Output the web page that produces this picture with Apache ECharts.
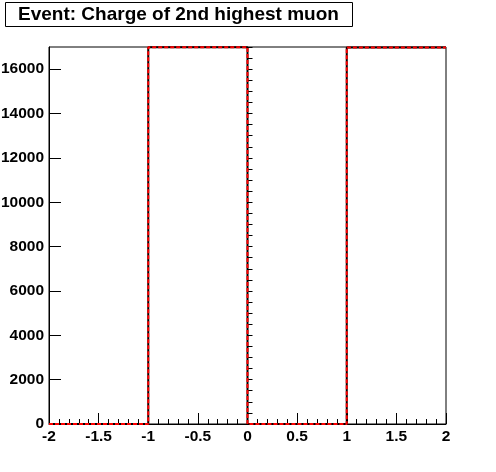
<!DOCTYPE html>
<html><head><meta charset="utf-8">
<script src="https://cdn.jsdelivr.net/npm/echarts@6/dist/echarts.min.js"></script>
<style>html,body{margin:0;padding:0;background:#fff}#c{width:496px;height:472px}</style>
</head><body><div id="c"></div>
<script>
const titleText = "Event: Charge of 2nd highest muon";
const binEdges = [-2, -1, 0, 1, 2];
const countsBlack = [0, 16990, 0, 16980];
const countsRed = [0, 16990, 0, 16980];
const yTickLabels = [0, 2000, 4000, 6000, 8000, 10000, 12000, 14000, 16000];
const xTickLabels = [-2, -1.5, -1, -0.5, 0, 0.5, 1, 1.5, 2];
const yMax = 17000;

function histPath(edges, counts) {
  const pts = [];
  for (let i = 0; i < counts.length; i++) {
    pts.push([edges[i], counts[i]]);
    pts.push([edges[i + 1], counts[i]]);
  }
  return pts;
}
const yMinor = [];
for (let v = 0; v <= yMax; v += 500) yMinor.push(v);

const font = { fontFamily: 'Liberation Sans', fontWeight: 'bold', fontSize: 15.5, color: '#000' };
const chart = echarts.init(document.getElementById('c'), null, { renderer: 'canvas' });
chart.setOption({
  animation: false,
  backgroundColor: '#fff',
  title: {
    text: titleText, left: 5, top: 2,
    borderColor: '#000', borderWidth: 1, padding: [3, 14, 3, 13],
    textStyle: { fontFamily: 'Liberation Sans', fontWeight: 'bold', fontSize: 19, color: '#000', lineHeight: 19 }
  },
  grid: { left: 49, right: 50, top: 47, bottom: 48, outerBoundsMode: 'none', containLabel: false, show: true, borderColor: '#000', borderWidth: 1, backgroundColor: 'transparent' },
  xAxis: {
    type: 'value', min: -2, max: 2, interval: 0.5,
    axisLine: { show: true, onZero: false, lineStyle: { color: '#000', width: 1 } },
    axisTick: { show: true, inside: true, length: 11, lineStyle: { color: '#000' } },
    minorTick: { show: true, splitNumber: 5, length: 5, lineStyle: { color: '#000' } },
    splitLine: { show: false },
    axisLabel: Object.assign({ margin: 5, formatter: v => String(v), customValues: xTickLabels }, font)
  },
  yAxis: [{
    type: 'value', min: 0, max: yMax, position: 'left',
    axisLine: { show: true, onZero: false, lineStyle: { color: '#000', width: 1 } },
    axisTick: { show: true, inside: true, length: 12, lineStyle: { color: '#000' }, customValues: yTickLabels },
    splitLine: { show: false },
    axisLabel: Object.assign({ margin: 5, formatter: v => String(v), customValues: yTickLabels }, font)
  }, {
    type: 'value', min: 0, max: yMax, position: 'left', offset: 0,
    axisLine: { show: false },
    axisTick: { show: true, inside: true, length: 5, lineStyle: { color: '#000' }, customValues: yMinor },
    splitLine: { show: false },
    axisLabel: { show: false }
  }],
  series: [{
    type: 'line', data: histPath(binEdges, countsBlack), symbol: 'none', clip: false,
    lineStyle: { color: '#000', width: 2 }
  }, {
    type: 'line', data: histPath(binEdges, countsRed), symbol: 'none', clip: false,
    lineStyle: { color: '#ff0000', width: 2, type: [4, 2] }
  }]
});
</script></body></html>
